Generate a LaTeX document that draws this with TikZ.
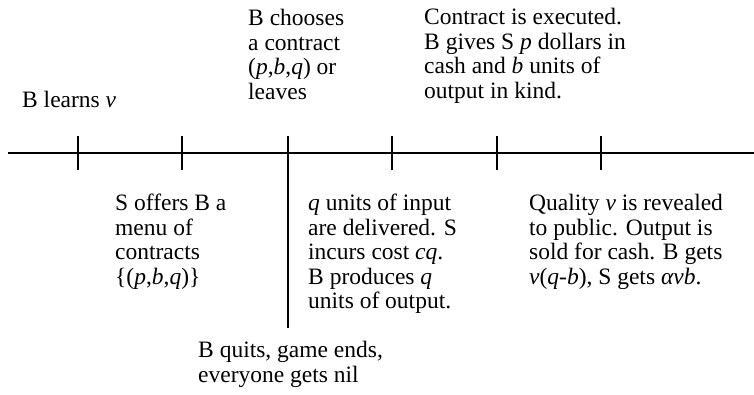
\documentclass[tikz,border=0pt]{standalone}
\usepackage{fontspec}
\setmainfont{Liberation Serif}
\begin{document}
\begin{tikzpicture}[x=1pt,y=-1pt,
  lbl/.style={anchor=north west,inner sep=0pt,align=left,font=\fontsize{23.5}{24.5}\selectfont},
  axis/.style={line width=1.3pt},
  tk/.style={line width=1.3pt}]
\useasboundingbox (0,0) rectangle (754,394);
% timeline
\coordinate (L) at (8,153);
\coordinate (R) at (754,153);
\draw[axis] (L) -- (R);
% ticks
\foreach \n/\x in {t1/78,t2/182,t4/392,t5/497,t6/601}{
  \coordinate (\n a) at (\x,136);
  \coordinate (\n b) at (\x,170);
  \draw[tk] (\n a) -- (\n b);
}
\coordinate (t3a) at (288,136);
\coordinate (t3b) at (288,328);
\draw[tk] (t3a) -- (t3b);
% labels above
\node[lbl] (learn) at (22,91) {B learns \textit{v}};
\node[lbl] (choose) at (248,9) {B chooses\\a contract\\(\textit{p},\textit{b},\textit{q}) or\\leaves};
\node[lbl] (exec) at (424,8) {Contract is executed.\\B gives S \textit{p} dollars in\\cash and \textit{b} units of\\output in kind.};
% labels below
\node[lbl] (offer) at (115,194) {S offers B a\\menu of\\contracts\\\{(\textit{p},\textit{b},\textit{q})\}};
\node[lbl] (input) at (308,194) {\textit{q} units of input\\are delivered. S\\incurs cost \textit{cq}.\\B produces \textit{q}\\units of output.};
\node[lbl] (qual) at (529,194) {Quality \textit{v} is revealed\\to public. Output is\\sold for cash. B gets\\\textit{v}(\textit{q}-\textit{b}), S gets \textit{αvb}.};
\node[lbl] (quit) at (198,341) {B quits, game ends,\\everyone gets nil};
\end{tikzpicture}
\end{document}
